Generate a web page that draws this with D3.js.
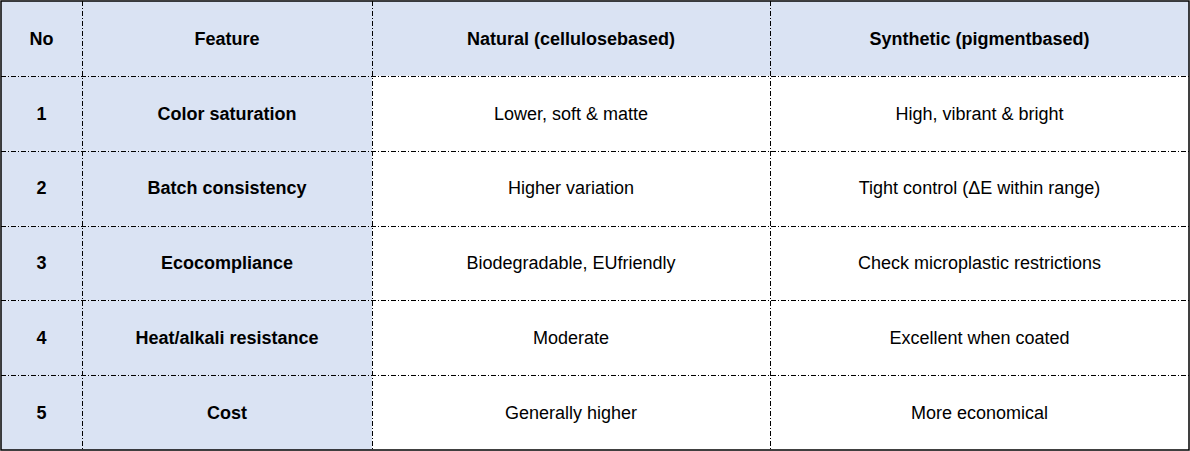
<!DOCTYPE html><html><head><meta charset="utf-8"><script src="https://cdn.jsdelivr.net/npm/d3@7"></script>
<style>body{margin:0;background:#fff}</style></head><body><svg id="c" width="1190" height="451"></svg>
<script>
const headers=["No","Feature","Natural (cellulosebased)","Synthetic (pigmentbased)"];
const nos=["1","2","3","4","5"];
const features=["Color saturation","Batch consistency","Ecocompliance","Heat/alkali resistance","Cost"];
const natural=["Lower, soft & matte","Higher variation","Biodegradable, EUfriendly","Moderate","Generally higher"];
const synthetic=["High, vibrant & bright","Tight control (ΔE within range)","Check microplastic restrictions","Excellent when coated","More economical"];
const colEdges=[1,82,372,770,1189];
const svg=d3.select("#c");
const y=d3.scaleLinear().domain([0,6]).range([1,450]);
const rows=[headers,...nos.map((n,i)=>[n,features[i],natural[i],synthetic[i]])];
rows.forEach((r,ri)=>{r.forEach((t,ci)=>{
 const blue=ri===0||ci<2;
 svg.append("rect").attr("x",colEdges[ci]).attr("y",y(ri)).attr("width",colEdges[ci+1]-colEdges[ci]).attr("height",y(ri+1)-y(ri)).attr("fill",blue?"#dae3f3":"#fff");
 svg.append("text").attr("x",(colEdges[ci]+colEdges[ci+1])/2).attr("y",(y(ri)+y(ri+1))/2).attr("dy","0.35em").attr("text-anchor","middle")
  .attr("font-family","Liberation Sans, Arial, sans-serif").attr("font-size",18).attr("font-weight",(ri===0||ci<2)?"bold":"normal").attr("fill","#000").text(t);
});});
const dash="5,2,1,2";
for(let i=1;i<6;i++)svg.append("line").attr("x1",1).attr("x2",1189).attr("y1",Math.round(y(i))+0.5).attr("y2",Math.round(y(i))+0.5).attr("stroke","#000").attr("stroke-dasharray",dash);
for(let i=1;i<4;i++)svg.append("line").attr("y1",1).attr("y2",450).attr("x1",colEdges[i]+0.5).attr("x2",colEdges[i]+0.5).attr("stroke","#000").attr("stroke-dasharray",dash);
svg.append("rect").attr("x",1).attr("y",1).attr("width",1188).attr("height",449).attr("fill","none").attr("stroke","#000").attr("stroke-width",1.5);
</script></body></html>
